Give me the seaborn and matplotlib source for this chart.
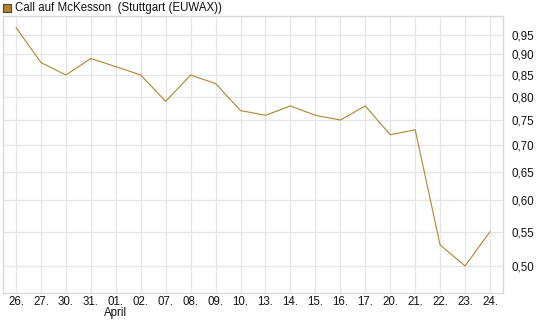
import matplotlib
matplotlib.use("Agg")
import matplotlib.pyplot as plt
import matplotlib.ticker as mticker
from matplotlib.patches import Rectangle
import numpy as np
import pandas as pd
import seaborn as sns

# chart data
dates = ["26.", "27.", "30.", "31.", "01.", "02.", "07.", "08.", "09.", "10.",
         "13.", "14.", "15.", "16.", "17.", "20.", "21.", "22.", "23.", "24."]
prices = [0.97, 0.88, 0.85, 0.89, 0.87, 0.85, 0.79, 0.85, 0.83, 0.77,
          0.76, 0.78, 0.76, 0.75, 0.78, 0.72, 0.73, 0.53, 0.50, 0.55]
yticks = [0.50, 0.55, 0.60, 0.65, 0.70, 0.75, 0.80, 0.85, 0.90, 0.95]

df = pd.DataFrame({"pos": np.arange(len(dates)), "price": prices})

sns.set_style("white")
plt.rcParams["font.family"] = ["Liberation Sans", "DejaVu Sans"]

fig = plt.figure(figsize=(5.45, 3.27), dpi=100)
ax = fig.add_axes([3 / 545, 1 - 293 / 327, 500 / 545, 277 / 327])

sns.lineplot(data=df, x="pos", y="price", ax=ax, color="#b8822f", linewidth=0.8)

ax.set_yscale("log")
ax.set_ylim(0.4638, 1.0015)
ax.set_xlim(-0.52, 19.52)
ax.yaxis.set_major_locator(mticker.FixedLocator(yticks))
ax.yaxis.set_minor_locator(mticker.NullLocator())
ax.set_yticklabels([f"{v:.2f}".replace(".", ",") for v in yticks])
ax.set_xticks(df["pos"])
ax.set_xticklabels(dates)
ax.yaxis.tick_right()
ax.tick_params(axis="both", length=0, labelsize=8.3, colors="#111111")
ax.tick_params(axis="y", pad=6)
ax.tick_params(axis="x", pad=2.5)
ax.set_xlabel("")
ax.set_ylabel("")
ax.grid(True, color="#e6e6e6", linewidth=0.9)
for s in ax.spines.values():
    s.set_color("#d9d9d9")
    s.set_linewidth(1)

fig.text(ax.get_position().x0 + ax.get_position().width * 4.52 / 20.04,
         1 - 313 / 327, "April", ha="center", va="center",
         fontsize=8.3, color="#111111")

# legend
fig.patches.append(Rectangle((3 / 545, 1 - 12 / 327), 8 / 545, 8 / 327,
                             transform=fig.transFigure, facecolor="#b8822f",
                             edgecolor="#444444", linewidth=0.8))
fig.text(15 / 545, 1 - 8 / 327, "Call auf McKesson  (Stuttgart (EUWAX))",
         fontsize=8.3, va="center", ha="left", color="#111111")

fig.savefig("out.png", dpi=100)
